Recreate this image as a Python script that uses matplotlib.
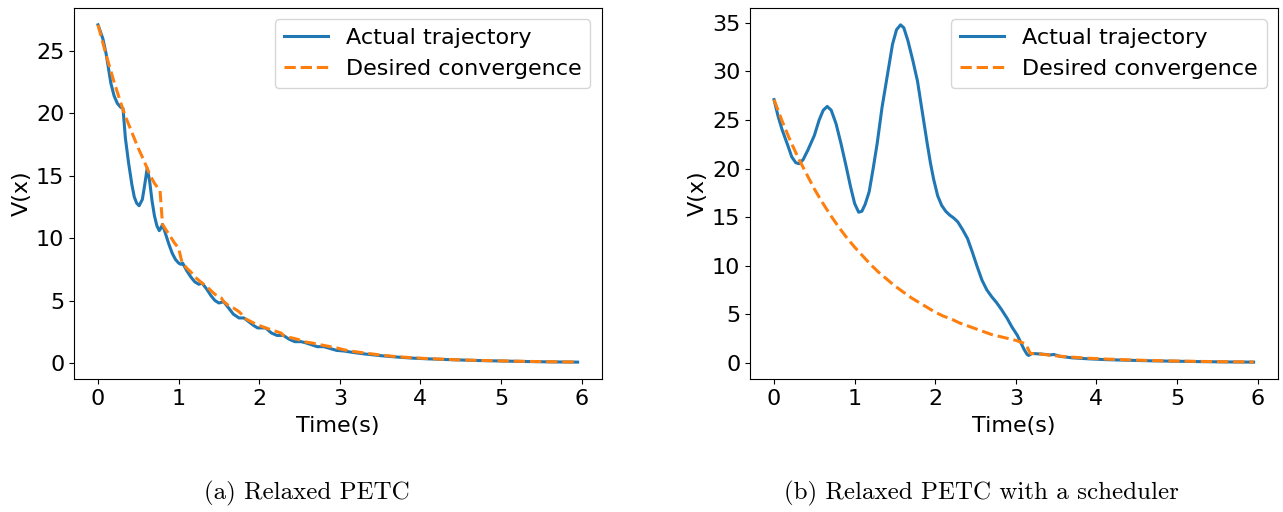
import matplotlib.pyplot as plt

# Relaxed PETC: Lyapunov value of the closed loop and the desired decay bound
t_actual_a = [0.00, 0.06, 0.10, 0.13, 0.16, 0.20, 0.24, 0.28, 0.31, 0.34, 0.38, 0.42, 0.45,
              0.48, 0.51, 0.55, 0.58, 0.61, 0.64, 0.67, 0.70, 0.73, 0.76, 0.78, 0.80, 0.84,
              0.88, 0.92, 0.96, 1.00, 1.03, 1.05, 1.10, 1.15, 1.20, 1.25, 1.29, 1.35, 1.40,
              1.45, 1.50, 1.56, 1.62, 1.68, 1.75, 1.81, 1.87, 1.93, 1.98, 2.04, 2.08, 2.15,
              2.22, 2.30, 2.37, 2.44, 2.52, 2.58, 2.65, 2.72, 2.80, 2.88, 2.96, 3.05, 3.15,
              3.30, 3.50, 3.70, 3.90, 4.10, 4.40, 4.70, 5.00, 5.30, 5.60, 5.95]
v_actual_a = [27.1, 26.0, 24.8, 23.6, 22.4, 21.4, 20.8, 20.5, 20.4, 18.0, 16.0, 14.3, 13.3,
              12.8, 12.6, 13.1, 14.3, 15.6, 14.6, 13.0, 11.8, 11.0, 10.6, 10.8, 11.1, 10.3,
              9.5, 8.8, 8.3, 8.0, 7.9, 8.0, 7.4, 6.9, 6.5, 6.3, 6.4, 5.9, 5.4,
              5.0, 4.8, 4.9, 4.4, 3.9, 3.6, 3.6, 3.3, 3.0, 2.8, 2.8, 2.8, 2.4,
              2.2, 2.2, 1.9, 1.7, 1.7, 1.6, 1.45, 1.3, 1.3, 1.15, 1.0, 0.95, 0.85,
              0.72, 0.58, 0.47, 0.38, 0.32, 0.25, 0.19, 0.15, 0.11, 0.08, 0.06]

t_desired_a = [0.00, 0.05, 0.10, 0.15, 0.20, 0.25, 0.30, 0.35, 0.40, 0.45, 0.50, 0.55, 0.61,
               0.65, 0.70, 0.77, 0.80, 0.85, 0.90, 0.95, 1.00, 1.04, 1.10, 1.15, 1.20, 1.29,
               1.35, 1.40, 1.45, 1.50, 1.53, 1.56, 1.62, 1.68, 1.75, 1.78, 1.81, 1.87, 1.93,
               2.00, 2.08, 2.15, 2.22, 2.27, 2.30, 2.37, 2.44, 2.52, 2.55, 2.65, 2.72, 2.80,
               2.88, 2.96, 3.05, 3.15, 3.30, 3.50, 3.70, 3.90, 4.10, 4.40, 4.70, 5.00, 5.30,
               5.60, 5.95]
v_desired_a = [27.1, 25.9, 24.7, 23.6, 22.5, 21.5, 20.5, 19.6, 18.8, 18.0, 17.2, 16.5, 15.6,
               15.0, 14.4, 13.8, 11.1, 10.6, 10.1, 9.6, 9.2, 8.1, 7.6, 7.3, 6.9, 6.4,
               6.1, 5.8, 5.5, 5.3, 5.2, 4.9, 4.6, 4.4, 4.1, 3.9, 3.6, 3.4, 3.2,
               3.0, 2.8, 2.65, 2.5, 2.4, 2.2, 2.05, 1.95, 1.8, 1.7, 1.6, 1.5, 1.4,
               1.3, 1.2, 1.05, 0.93, 0.8, 0.63, 0.5, 0.41, 0.34, 0.26, 0.2, 0.16, 0.12,
               0.09, 0.07]

# Relaxed PETC with a scheduler
t_actual_b = [0.00, 0.05, 0.10, 0.17, 0.22, 0.27, 0.31, 0.36, 0.42, 0.50, 0.56, 0.61, 0.66,
              0.71, 0.77, 0.83, 0.89, 0.95, 1.00, 1.05, 1.09, 1.13, 1.18, 1.23, 1.28, 1.34,
              1.41, 1.47, 1.52, 1.57, 1.61, 1.66, 1.72, 1.78, 1.84, 1.90, 1.94, 1.98, 2.03,
              2.08, 2.13, 2.18, 2.23, 2.28, 2.34, 2.40, 2.46, 2.52, 2.58, 2.64, 2.70, 2.76,
              2.82, 2.89, 2.95, 3.02, 3.06, 3.10, 3.14, 3.16, 3.20, 3.30, 3.43, 3.47, 3.55,
              3.70, 3.90, 4.10, 4.40, 4.70, 5.00, 5.30, 5.60, 5.95]
v_actual_b = [27.1, 25.4, 24.0, 22.4, 21.2, 20.6, 20.5, 20.9, 21.9, 23.4, 25.0, 26.0, 26.4,
              26.0, 24.6, 22.6, 20.4, 18.1, 16.4, 15.5, 15.6, 16.3, 17.6, 20.0, 22.6, 26.3,
              29.8, 32.8, 34.3, 34.8, 34.5, 33.2, 31.2, 29.0, 25.8, 22.6, 20.6, 18.9, 17.2,
              16.2, 15.6, 15.2, 14.9, 14.5, 13.7, 12.8, 11.4, 9.9, 8.5, 7.5, 6.8, 6.2,
              5.5, 4.6, 3.7, 2.8, 2.1, 1.4, 0.85, 0.75, 0.95, 0.9, 0.8, 0.85, 0.65,
              0.5, 0.4, 0.32, 0.25, 0.19, 0.15, 0.11, 0.08, 0.06]

t_desired_b = [0.00, 0.10, 0.20, 0.30, 0.40, 0.50, 0.60, 0.70, 0.80, 0.90, 1.00, 1.10, 1.20,
               1.30, 1.40, 1.50, 1.60, 1.70, 1.80, 1.90, 2.00, 2.10, 2.20, 2.30, 2.40, 2.50,
               2.60, 2.70, 2.80, 2.90, 3.00, 3.12, 3.18, 3.30, 3.40, 3.50, 3.70, 3.90, 4.10,
               4.40, 4.70, 5.00, 5.30, 5.60, 5.95]
v_desired_b = [27.1, 24.9, 22.9, 21.1, 19.5, 17.9, 16.5, 15.2, 14.0, 12.9, 11.9, 11.0, 10.1,
               9.3, 8.6, 7.9, 7.3, 6.7, 6.2, 5.7, 5.2, 4.8, 4.5, 4.1, 3.8, 3.5,
               3.2, 2.9, 2.7, 2.5, 2.3, 1.95, 0.95, 0.9, 0.8, 0.7, 0.57, 0.46, 0.38,
               0.29, 0.22, 0.17, 0.13, 0.1, 0.08]

panels = [
    (t_actual_a, v_actual_a, t_desired_a, v_desired_a, "(a) Relaxed PETC"),
    (t_actual_b, v_actual_b, t_desired_b, v_desired_b, "(b) Relaxed PETC with a scheduler"),
]
ax_left = [0.0577, 0.5846]
caption_x = [0.239, 0.765]

fig = plt.figure(figsize=(12.83, 5.12), dpi=100)
for i, (ta, va, td, vd, caption) in enumerate(panels):
    ax = fig.add_axes([ax_left[i], 0.2598, 0.4112, 0.7246])
    ax.plot(ta, va, color="C0", linewidth=2.2, label="Actual trajectory")
    ax.plot(td, vd, color="C1", linewidth=2.2, linestyle="--", label="Desired convergence")
    ax.set_xticks(range(7))
    ax.set_xlabel("Time(s)", fontsize=16, labelpad=5)
    ax.set_ylabel("V(x)", fontsize=16, labelpad=3)
    ax.tick_params(labelsize=16)
    ax.legend(loc="upper right", fontsize=16)
    fig.text(caption_x[i], 0.037, caption, ha="center", va="center",
             family="cmr10", fontsize=18)

fig.savefig("out.png")
